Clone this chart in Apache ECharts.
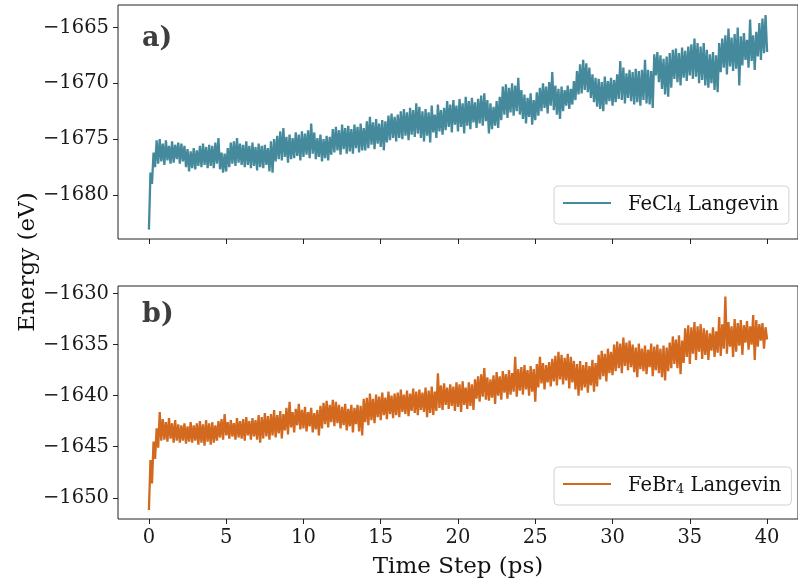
<!DOCTYPE html>
<html>
<head>
<meta charset="utf-8">
<script src="https://cdn.jsdelivr.net/npm/echarts@6/dist/echarts.min.js"></script>
<style>html,body{margin:0;padding:0;background:#fff}#chart{width:798px;height:588px}</style>
</head>
<body>
<div id="chart"></div>
<script>
// Energy (eV) sampled every 0.1 ps, 0 … 40 ps
const energyFeCl4 = [
-1683.1,-1678.0,-1679.0,-1676.2,-1677.5,-1675.1,-1677.2,-1675.0,-1677.0,-1675.4,-1677.3,-1675.1,-1676.9,-1675.6,-1677.2,-1675.2,-1677.1,-1675.5,-1676.8,-1675.3,
-1677.2,-1675.4,-1677.0,-1675.6,-1677.5,-1675.9,-1677.9,-1676.1,-1677.6,-1675.8,-1677.7,-1676.0,-1677.4,-1675.6,-1677.5,-1675.4,-1677.3,-1675.7,-1677.6,-1675.5,
-1677.4,-1675.6,-1677.6,-1675.3,-1677.2,-1674.9,-1677.7,-1676.2,-1678.0,-1676.3,-1677.9,-1675.8,-1677.5,-1675.3,-1677.2,-1675.2,-1677.4,-1674.9,-1677.1,-1675.4,
-1677.3,-1675.5,-1677.5,-1675.2,-1677.3,-1675.6,-1677.6,-1675.3,-1677.4,-1675.7,-1677.8,-1675.4,-1677.5,-1675.6,-1677.6,-1675.5,-1677.3,-1675.8,-1677.9,-1675.2,
-1678.0,-1675.0,-1677.0,-1674.7,-1676.8,-1674.3,-1676.9,-1674.0,-1676.6,-1674.8,-1677.1,-1674.6,-1676.8,-1674.9,-1676.7,-1674.4,-1676.5,-1674.6,-1676.9,-1674.3,
-1676.6,-1674.5,-1676.4,-1674.2,-1676.7,-1673.6,-1676.3,-1674.4,-1676.8,-1674.9,-1676.6,-1674.6,-1677.0,-1675.0,-1676.7,-1674.7,-1676.9,-1674.8,-1676.4,-1674.1,
-1676.2,-1673.9,-1676.0,-1674.2,-1676.4,-1673.7,-1675.9,-1674.0,-1676.3,-1673.8,-1676.1,-1674.1,-1676.3,-1673.7,-1675.8,-1673.9,-1676.2,-1673.6,-1676.0,-1674.0,
-1676.0,-1673.4,-1675.8,-1673.0,-1675.5,-1673.5,-1675.9,-1673.2,-1675.4,-1673.6,-1675.7,-1673.3,-1676.0,-1673.4,-1675.3,-1672.9,-1675.1,-1672.7,-1674.9,-1673.0,
-1675.2,-1672.8,-1674.9,-1672.5,-1675.0,-1672.3,-1674.7,-1672.6,-1675.1,-1672.2,-1674.6,-1672.4,-1674.8,-1671.8,-1674.5,-1672.1,-1674.9,-1672.5,-1675.2,-1672.3,
-1674.7,-1672.6,-1675.3,-1672.0,-1674.4,-1672.8,-1674.9,-1671.9,-1674.3,-1672.4,-1674.6,-1672.2,-1674.2,-1671.6,-1673.9,-1671.9,-1674.4,-1671.5,-1673.7,-1672.0,
-1674.3,-1671.4,-1673.9,-1671.8,-1674.5,-1671.2,-1673.8,-1671.6,-1674.1,-1671.3,-1673.5,-1671.7,-1674.0,-1671.4,-1673.6,-1671.1,-1673.8,-1670.9,-1673.4,-1671.5,
-1674.5,-1671.8,-1674.1,-1672.1,-1673.8,-1671.6,-1674.0,-1671.2,-1673.3,-1670.3,-1672.8,-1670.1,-1673.1,-1670.4,-1672.6,-1670.0,-1672.9,-1670.2,-1672.5,-1669.5,
-1672.8,-1670.6,-1673.2,-1671.0,-1673.6,-1671.3,-1673.0,-1670.9,-1673.7,-1671.5,-1673.3,-1670.8,-1672.9,-1670.4,-1672.5,-1670.0,-1672.2,-1670.3,-1672.7,-1669.9,
-1672.0,-1669.0,-1672.4,-1670.2,-1672.8,-1670.5,-1673.2,-1670.3,-1672.5,-1670.6,-1672.0,-1670.2,-1672.3,-1670.5,-1671.9,-1669.8,-1671.5,-1668.9,-1671.0,-1668.3,
-1670.9,-1667.9,-1670.6,-1668.2,-1670.8,-1668.6,-1671.3,-1669.2,-1671.7,-1669.5,-1672.1,-1669.6,-1672.3,-1669.9,-1672.5,-1669.4,-1671.9,-1669.8,-1671.6,-1669.5,
-1672.0,-1669.7,-1671.7,-1669.2,-1671.4,-1668.0,-1671.5,-1668.6,-1671.8,-1669.1,-1671.3,-1668.8,-1671.6,-1669.0,-1671.9,-1668.7,-1671.7,-1668.9,-1672.0,-1668.8,
-1671.5,-1667.9,-1671.8,-1668.8,-1671.9,-1668.9,-1672.2,-1667.4,-1669.3,-1667.2,-1669.9,-1667.5,-1670.5,-1667.8,-1671.0,-1667.6,-1671.2,-1667.3,-1670.4,-1667.0,
-1669.6,-1666.9,-1669.9,-1667.3,-1670.2,-1666.8,-1669.5,-1667.1,-1669.8,-1666.7,-1669.3,-1666.5,-1669.6,-1666.0,-1669.4,-1666.4,-1670.0,-1666.7,-1669.7,-1666.4,
-1670.2,-1667.0,-1670.4,-1667.4,-1670.0,-1667.2,-1670.6,-1667.5,-1670.8,-1666.4,-1669.0,-1666.0,-1668.6,-1665.7,-1669.2,-1665.1,-1668.5,-1665.9,-1668.9,-1665.6,
-1668.7,-1665.0,-1670.2,-1665.8,-1668.4,-1665.5,-1667.9,-1666.1,-1668.6,-1664.3,-1668.0,-1665.7,-1668.8,-1665.4,-1667.6,-1664.6,-1667.9,-1664.2,-1667.3,-1663.9,
-1667.2
];
const energyFeBr4 = [
-1651.2,-1646.3,-1648.6,-1644.5,-1646.2,-1643.2,-1645.1,-1641.6,-1644.4,-1642.3,-1644.3,-1642.6,-1644.5,-1642.2,-1644.2,-1642.7,-1644.6,-1642.4,-1644.4,-1642.8,
-1644.6,-1642.9,-1644.4,-1642.7,-1644.7,-1643.0,-1644.5,-1642.6,-1644.6,-1642.9,-1644.4,-1642.7,-1644.8,-1642.5,-1644.6,-1642.8,-1644.9,-1642.4,-1644.5,-1642.7,
-1644.8,-1642.6,-1644.6,-1642.9,-1644.4,-1642.5,-1644.1,-1642.3,-1644.3,-1641.8,-1643.9,-1642.6,-1644.2,-1642.4,-1644.0,-1642.7,-1644.3,-1642.2,-1644.1,-1642.5,
-1644.2,-1642.3,-1644.4,-1642.1,-1643.9,-1642.5,-1644.3,-1642.2,-1644.0,-1642.4,-1644.3,-1641.9,-1644.6,-1642.1,-1644.2,-1641.7,-1644.0,-1642.0,-1644.3,-1641.8,
-1643.9,-1641.4,-1644.1,-1641.9,-1643.7,-1641.5,-1644.2,-1641.8,-1643.4,-1641.2,-1643.8,-1640.6,-1643.1,-1641.6,-1643.6,-1641.3,-1642.9,-1640.8,-1643.3,-1641.4,
-1643.2,-1641.1,-1643.5,-1641.6,-1643.0,-1641.2,-1643.6,-1641.7,-1643.3,-1641.4,-1643.9,-1641.0,-1643.2,-1640.7,-1642.8,-1640.5,-1643.1,-1640.9,-1642.6,-1640.4,
-1643.0,-1640.6,-1642.7,-1640.9,-1643.2,-1641.1,-1642.9,-1640.8,-1643.4,-1641.3,-1643.0,-1640.9,-1643.6,-1641.2,-1642.8,-1640.9,-1643.5,-1641.0,-1643.9,-1640.3,
-1642.6,-1640.2,-1642.9,-1639.8,-1642.4,-1640.3,-1642.7,-1639.9,-1642.1,-1640.1,-1642.4,-1639.7,-1641.9,-1640.2,-1642.3,-1639.6,-1641.8,-1640.0,-1642.2,-1639.8,
-1641.9,-1639.7,-1642.1,-1639.4,-1641.6,-1639.9,-1641.8,-1639.5,-1642.0,-1639.8,-1641.5,-1639.3,-1641.7,-1639.6,-1641.9,-1639.4,-1641.4,-1639.7,-1641.6,-1639.2,
-1642.1,-1639.5,-1641.7,-1639.1,-1641.9,-1639.6,-1641.5,-1637.8,-1641.2,-1639.0,-1641.4,-1638.8,-1640.9,-1639.2,-1641.3,-1638.9,-1641.0,-1639.1,-1641.5,-1638.7,
-1641.1,-1638.9,-1641.6,-1638.6,-1640.9,-1639.2,-1641.3,-1638.7,-1641.0,-1638.9,-1641.4,-1638.4,-1640.3,-1638.1,-1640.6,-1637.9,-1640.1,-1637.3,-1640.4,-1638.2,
-1640.5,-1638.4,-1640.2,-1638.0,-1640.8,-1637.7,-1640.0,-1638.1,-1640.4,-1637.6,-1639.7,-1637.9,-1640.3,-1637.5,-1639.9,-1637.8,-1639.6,-1636.2,-1640.1,-1637.4,
-1639.5,-1637.2,-1639.9,-1637.0,-1639.4,-1637.5,-1640.0,-1637.1,-1639.6,-1637.4,-1640.6,-1636.9,-1639.2,-1636.2,-1638.8,-1636.8,-1639.4,-1637.0,-1638.7,-1636.7,
-1639.1,-1636.4,-1638.6,-1636.1,-1639.0,-1635.7,-1638.4,-1636.0,-1638.9,-1636.3,-1638.5,-1635.9,-1639.3,-1636.2,-1638.7,-1636.6,-1639.4,-1636.9,-1640.0,-1636.6,
-1639.5,-1637.0,-1639.2,-1636.7,-1639.7,-1637.1,-1639.0,-1636.5,-1639.6,-1636.8,-1639.1,-1636.0,-1638.4,-1635.6,-1638.1,-1635.9,-1638.6,-1635.4,-1637.8,-1635.7,
-1638.0,-1635.0,-1637.6,-1634.7,-1637.3,-1634.9,-1637.8,-1634.3,-1637.1,-1634.8,-1637.5,-1634.6,-1637.2,-1635.0,-1637.7,-1635.3,-1638.2,-1634.9,-1637.4,-1635.4,
-1637.6,-1635.1,-1637.9,-1635.5,-1637.2,-1634.9,-1638.1,-1635.2,-1637.5,-1635.0,-1637.8,-1635.4,-1638.2,-1635.1,-1638.5,-1635.3,-1637.6,-1634.8,-1637.3,-1634.2,
-1636.9,-1634.5,-1637.3,-1634.1,-1637.9,-1634.6,-1636.8,-1633.4,-1636.2,-1633.1,-1636.9,-1633.3,-1635.9,-1632.8,-1636.5,-1633.2,-1635.7,-1633.0,-1636.4,-1633.4,
-1636.0,-1633.6,-1636.5,-1633.9,-1635.6,-1633.3,-1636.2,-1633.7,-1635.8,-1632.3,-1636.1,-1633.0,-1635.4,-1630.3,-1635.9,-1632.8,-1635.2,-1633.2,-1636.2,-1632.5,
-1635.7,-1632.9,-1635.1,-1632.6,-1636.0,-1633.1,-1634.8,-1632.7,-1635.5,-1633.2,-1635.0,-1632.1,-1636.5,-1632.6,-1635.2,-1633.0,-1634.6,-1632.9,-1635.4,-1633.3,
-1634.5
];
const timePs = energyFeCl4.map((_, i) => Math.round(i) / 10);
const xTicks = [0, 5, 10, 15, 20, 25, 30, 35, 40];
const yTicksTop = [-1680, -1675, -1670, -1665];
const yTicksBottom = [-1650, -1645, -1640, -1635, -1630];
const seriesNames = ['FeCl4 Langevin', 'FeBr4 Langevin'];
const panelLabels = ['a)', 'b)'];

const FONT = 'DejaVu Serif';
const colors = ['#458a9c', '#d2691e'];
const minus = v => String(v).replace('-', '\u2212');
const pairs = arr => arr.map((v, i) => [timePs[i], v]);

function xAxisFor(idx, showLabels) {
  return {
    type: 'value', gridIndex: idx, min: -2, max: 42,
    axisLine: { show: false, onZero: false },
    axisTick: { show: true, length: 5, customValues: xTicks, lineStyle: { color: '#222', width: 1 } },
    axisLabel: { show: showLabels, customValues: xTicks, margin: 9, fontFamily: FONT, fontSize: 19.5, color: '#1a1a1a' },
    splitLine: { show: false },
    name: showLabels ? 'Time Step (ps)' : '', nameLocation: 'middle', nameGap: 37,
    nameTextStyle: { fontFamily: FONT, fontSize: 23, color: '#111' }
  };
}
function yAxisFor(idx, min, max, ticks) {
  return {
    type: 'value', gridIndex: idx, min: min, max: max,
    axisLine: { show: false, onZero: false },
    axisTick: { show: true, length: 5, customValues: ticks, lineStyle: { color: '#222', width: 1 } },
    axisLabel: { customValues: ticks, margin: 9, fontFamily: FONT, fontSize: 19.5, color: '#1a1a1a', formatter: minus },
    splitLine: { show: false }
  };
}
const richText = {
  a: { fontFamily: FONT, fontSize: 19.5, color: '#111', lineHeight: 24, verticalAlign: 'bottom' },
  s: { fontFamily: FONT, fontSize: 13.5, color: '#111', lineHeight: 15, verticalAlign: 'bottom' }
};
function legendFor(name, top) {
  return {
    data: [name], left: 554, top: top, orient: 'horizontal',
    icon: 'rect', itemWidth: 48, itemHeight: 2,
    padding: [9, 10, 9, 9],
    backgroundColor: '#fff', borderColor: '#d2d2d2', borderWidth: 1, borderRadius: 4,
    selectedMode: false,
    formatter: n => {
      const m = n.match(/^(\D+)(\d)(.*)$/);
      return '{a|' + m[1] + '}{s|' + m[2] + '}{a|' + m[3] + '}';
    },
    textStyle: { rich: richText, padding: [0, 0, 0, 12] }
  };
}

const chart = echarts.init(document.getElementById('chart'), null, { renderer: 'canvas' });
chart.setOption({
  animation: false,
  backgroundColor: '#fff',
  grid: [
    { left: 118, top: 5, width: 690, height: 234, show: true, borderColor: '#222', borderWidth: 1, backgroundColor: 'transparent' },
    { left: 118, top: 286, width: 690, height: 233, show: true, borderColor: '#222', borderWidth: 1, backgroundColor: 'transparent' }
  ],
  xAxis: [xAxisFor(0, false), xAxisFor(1, true)],
  yAxis: [
    yAxisFor(0, -1683.94, -1662.99, yTicksTop),
    yAxisFor(1, -1652.08, -1629.26, yTicksBottom)
  ],
  legend: [legendFor(seriesNames[0], 186), legendFor(seriesNames[1], 467)],
  title: [
    { text: panelLabels[0], left: 142, top: 25, padding: 0, textStyle: { fontFamily: FONT, fontSize: 27, fontWeight: 'bold', color: '#3d3d3d' } },
    { text: panelLabels[1], left: 142, top: 301, padding: 0, textStyle: { fontFamily: FONT, fontSize: 27, fontWeight: 'bold', color: '#3d3d3d' } }
  ],
  graphic: [{
    type: 'text', x: 28, y: 262, rotation: Math.PI / 2,
    style: { text: 'Energy (eV)', fontFamily: FONT, fontSize: 23, fill: '#111', align: 'center', verticalAlign: 'middle' }
  }],
  series: [
    { name: seriesNames[0], type: 'line', xAxisIndex: 0, yAxisIndex: 0, data: pairs(energyFeCl4),
      showSymbol: false, symbol: 'none', lineStyle: { color: colors[0], width: 2.3 }, itemStyle: { color: colors[0] } },
    { name: seriesNames[1], type: 'line', xAxisIndex: 1, yAxisIndex: 1, data: pairs(energyFeBr4),
      showSymbol: false, symbol: 'none', lineStyle: { color: colors[1], width: 2.3 }, itemStyle: { color: colors[1] } }
  ]
});
</script>
</body>
</html>
